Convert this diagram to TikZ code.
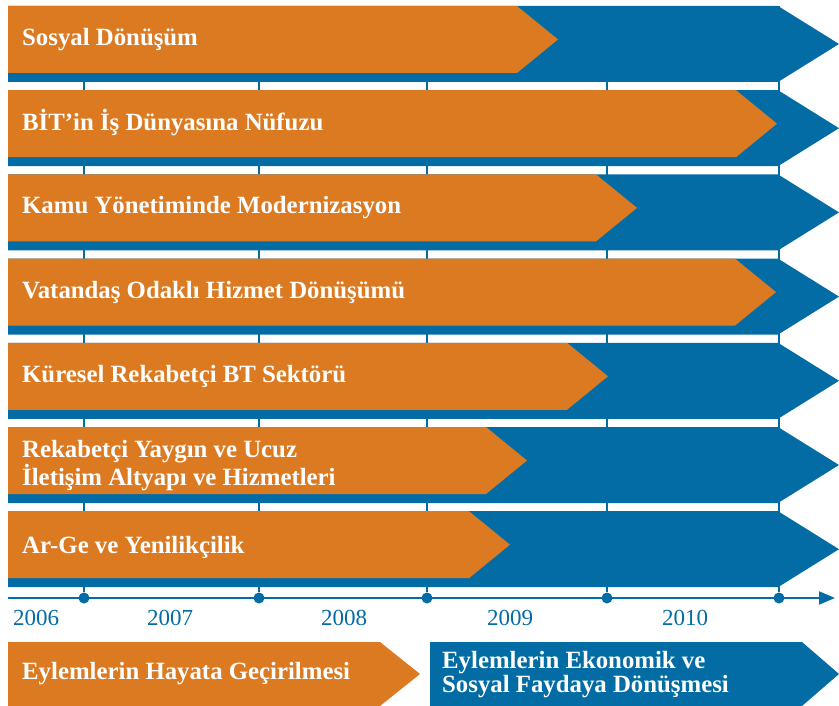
\documentclass[tikz,border=0pt]{standalone}
\usepackage{fontspec}
\setmainfont{Liberation Serif}
\usepackage{tikz}
\usetikzlibrary{arrows.meta,positioning}
\definecolor{turuncu}{RGB}{220,122,34}
\definecolor{mavi}{RGB}{3,108,165}

\begin{document}
\begin{tikzpicture}[x=1pt,y=-1pt,>={Triangle[length=16pt,width=13pt]},
    bar/.style={fill=mavi},
    done/.style={fill=turuncu},
    lbl/.style={anchor=base west,text=white,inner sep=0pt,align=left,
                font=\bfseries\fontsize{24.8}{28}\selectfont},
    yr/.style={anchor=base,text=mavi,inner sep=0pt,
               font=\fontsize{23}{26}\selectfont},
    tick/.style={draw=mavi,line width=2pt},
    dot/.style={circle,fill=mavi,minimum size=11pt,inner sep=0pt}]
  \useasboundingbox (0,0) rectangle (839,706);

  % time axis with the year marks, behind the bars
  \coordinate (ax0) at (8,598);
  \coordinate (ax1) at (835,598);
  \draw[tick,->] (ax0) -- (ax1);
  \foreach \x [count=\k] in {84,259,427,607,779} {
    \coordinate (top\k) at (\x,6);
    \node[dot] (d\k) at (\x,598) {};
    \draw[tick] (d\k) -- (top\k);
  }

  % one row per policy area: end of orange part / baseline / text
  \foreach \e/\b/\txt [count=\i] in {517/40/{Sosyal Dönüşüm},
      736/40/{BİT’in İş Dünyasına Nüfuzu},
      596/39/{Kamu Yönetiminde Modernizasyon},
      735/40/{Vatandaş Odaklı Hizmet Dönüşümü},
      567/40/{Küresel Rekabetçi BT Sektörü},
      486/58/{Rekabetçi Yaygın ve Ucuz\\İletişim Altyapı ve Hizmetleri},
      469/42/{Ar-Ge ve Yenilikçilik}} {
    \pgfmathsetmacro\t{6+84.2*(\i-1)}
    \fill[bar] (8,\t) -- (778,\t) -- (839,\t+38) -- (778,\t+76)
      -- (8,\t+76) -- cycle;
    \fill[done] (8,\t) -- (\e,\t) -- (\e+41,\t+33.5) -- (\e,\t+67)
      -- (8,\t+67) -- cycle;
    \node[lbl] (lbl\i) at (22,\t+\b) {\txt};
  }

  % years
  \node[yr] (y2006) at (36,625) {2006};
  \node[yr] (y2007) at (170,625) {2007};
  \node[yr] (y2008) at (344,625) {2008};
  \node[yr] (y2009) at (510,625) {2009};
  \node[yr] (y2010) at (685,625) {2010};

  % phases
  \fill[done] (8,642) -- (380,642) -- (420,674) -- (380,706) -- (8,706) -- cycle;
  \fill[bar] (430,642) -- (802,642) -- (839,674) -- (802,706) -- (430,706) -- cycle;
  \node[lbl] (phase1) at (22,679) {Eylemlerin Hayata Geçirilmesi};
  \node[lbl,font=\bfseries\fontsize{24.8}{22}\selectfont] (phase2) at (442,692)
        {Eylemlerin Ekonomik ve\\Sosyal Faydaya Dönüşmesi};
\end{tikzpicture}
\end{document}
